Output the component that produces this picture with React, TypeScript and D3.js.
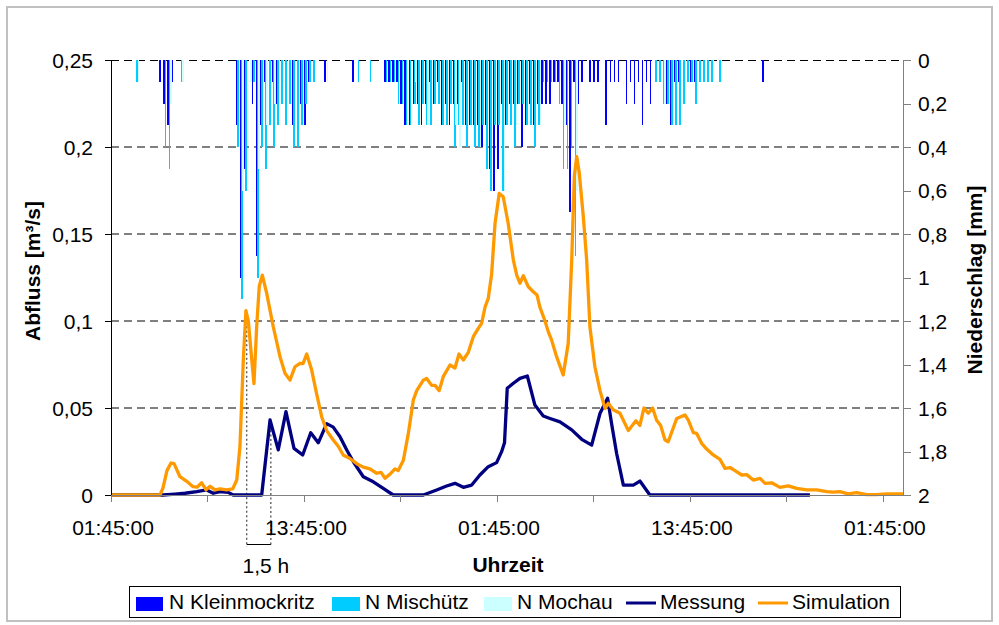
import React from "react";
import * as d3 from "d3";

// ---------- data ----------
// time in hours after 01:45:00 of day 1
const xTickHours = [0, 6, 12, 18, 24, 30, 36, 42, 48];
const xLabelHours = [0, 12, 24, 36, 48];
const xLabels = ["01:45:00", "13:45:00", "01:45:00", "13:45:00", "01:45:00"];
const leftTicks = [0, 0.05, 0.1, 0.15, 0.2, 0.25];
const rightTicks = [0, 0.2, 0.4, 0.6, 0.8, 1, 1.2, 1.4, 1.6, 1.8, 2];

// precipitation per 15-min step [mm], step 0 = 01:45
const rainKleinmockritz = [
  0,0,0,0,0,0,0,0,0,0,
  0,0,0.1,0.2,0.3,0.1,0,0,0,0,
  0,0,0,0,0,0,0,0,0,0,
  0,0.3,1.0,0.5,0,0.2,0.9,0.3,0.1,0,
  0.1,0.2,0,0,0,0.3,0,0.2,0.3,0.1,
  0,0,0,0.1,0,0,0,0,0,0,
  0.1,0,0,0,0,0,0,0,0.1,0.1,
  0.1,0.1,0.2,0.3,0.3,0.2,0.2,0.3,0.2,0.1,
  0.2,0.1,0.3,0.2,0.3,0.2,0.2,0.1,0.3,0.3,
  0.3,0.3,0.4,0.3,0.5,0.6,0.5,0.2,0.3,0.2,
  0.2,0.2,0.4,0.3,0.2,0.3,0.2,0.2,0.2,0.2,
  0.1,0.1,0.2,0.3,0.7,0.1,0.2,0.1,0,0.1,
  0.1,0.1,0,0.3,0.1,0.1,0.1,0,0.2,0.1,
  0.2,0.1,0.3,0.1,0.2,0,0,0,0.2,0.3,
  0.1,0.1,0,0,0.1,0.1,0,0,0,0,
  0,0,0,0,0,0,0,0,0,0,
  0,0,0.1,
];
const rainMischuetz = [
  0,0,0,0,0,0,0.1,0,0,0,
  0,0,0,0.4,0.5,0,0,0.1,0,0,
  0,0,0,0,0,0,0,0,0,0,
  0,0.4,1.1,0.6,0,0.1,1.0,0.4,0.5,0.3,
  0.4,0.3,0.2,0.3,0.2,0.4,0.4,0.3,0.2,0.1,
  0.1,0,0,0,0,0,0,0,0,0,
  0,0.1,0,0,0.1,0,0,0,0.1,0.1,
  0.1,0.2,0.2,0.3,0.3,0.2,0.3,0.2,0.3,0.3,
  0.2,0.2,0.3,0.3,0.2,0.4,0.3,0.3,0.4,0.3,
  0.4,0.4,0.3,0.5,0.6,0.3,0.3,0.6,0.3,0.3,
  0.4,0.2,0.2,0.3,0.3,0.4,0.3,0.1,0.1,0.1,
  0.1,0.2,0.5,0.5,0.4,0.9,0,0,0,0,
  0,0,0,0,0,0,0,0,0,0,
  0,0,0,0,0,0.1,0.1,0.2,0.2,0.3,
  0.3,0.3,0.2,0.1,0.1,0.2,0.1,0.1,0.1,0.1,
  0,0.1,0,0,0,0,0,0,0,0,
  0,0,0,
];
const rainMochau = [
  0,0,0,0,0,0,0.1,0,0,0,
  0,0,0,0,0.2,0,0,0.1,0,0,
  0,0,0,0,0,0,0,0,0,0,
  0,0,0.6,0,0.1,0,0.5,0,0.3,0,
  0.2,0,0.1,0,0,0,0.2,0,0,0,
  0,0,0,0.1,0,0,0,0,0,0,
  0,0,0,0,0,0,0,0,0,0,
  0,0,0,0,0,0.1,0,0,0.3,0,
  0,0,0,0,0,0.3,0.4,0,0,0,
  0,0.4,0,0,0,0,0,0.6,0,0,
  0.3,0,0,0,0,0,0.3,0,0,0,
  0,0,0.3,0,0,0.6,0,0,0,0,
  0,0,0,0,0,0,0,0,0,0,
  0,0,0,0,0,0,0,0.2,0,0.3,
  0,0,0.2,0,0,0,0,0,0,0.1,
  0,0.1,0,0,0,0,0,0,0,0,
  0,0,0,
];

// discharge [m³/s]
const messungHours = [0,3.23,3.98,4.6,5.33,5.95,6.36,6.78,7.29,7.6,9.37,9.89,10.4,10.88,11.38,11.92,12.42,12.89,13.41,13.82,14.24,14.66,15.07,15.69,16.31,16.93,17.55,19.42,20.25,20.87,21.39,21.91,22.43,22.94,23.46,23.98,24.29,24.47,24.64,25.02,25.43,25.89,26.36,26.88,27.3,27.92,28.65,29.27,29.89,30.41,30.88,31.13,31.44,31.86,32.48,32.89,33.51,43.46];
const messungValues = [0,0,0.0005,0.001,0.0019,0.0029,0.001,0.0019,0.0015,0,0,0.0431,0.0259,0.0479,0.0268,0.023,0.0358,0.03,0.041,0.039,0.0335,0.0259,0.0191,0.0105,0.0076,0.0038,0,0,0.0029,0.0052,0.0067,0.0044,0.0057,0.0115,0.0163,0.0186,0.0249,0.03,0.0613,0.0642,0.067,0.0684,0.0517,0.0454,0.044,0.042,0.0374,0.032,0.0287,0.047,0.0556,0.041,0.024,0.0057,0.0057,0.008,0,0];

const simulationHours = [0,3.05,3.23,3.48,3.73,3.92,4.29,4.73,5.1,5.35,5.64,5.91,6.16,6.47,6.78,7.19,7.57,7.82,8.02,8.23,8.39,8.54,8.75,8.89,9.06,9.22,9.41,9.68,10.09,10.51,10.82,11.13,11.44,11.75,11.94,12.17,12.48,12.79,13.1,13.41,13.82,14.13,14.44,14.86,15.28,15.69,16.1,16.52,16.79,17.04,17.35,17.66,17.86,18.18,18.49,18.8,19.01,19.42,19.63,19.94,20.15,20.41,20.66,21.08,21.39,21.64,21.91,22.22,22.53,22.84,23.05,23.26,23.46,23.67,23.88,24.14,24.39,24.7,25.02,25.23,25.43,25.64,25.95,26.26,26.49,26.67,26.99,27.19,27.4,27.71,28.12,28.43,28.65,28.81,28.96,29.12,29.37,29.58,29.78,30.09,30.41,30.72,30.92,31.23,31.65,32.17,32.64,32.89,33.14,33.41,33.68,33.93,34.18,34.45,34.65,35.18,35.69,35.9,36.21,36.42,36.73,37.04,37.45,37.87,38.18,38.49,38.8,39.22,39.53,39.94,40.36,40.67,41.08,41.6,42.11,42.64,43.26,43.88,44.5,44.91,45.33,45.84,46.37,46.99,47.61,48.23,48.64,49.25];
const simulationValues = [0,0,0.004,0.014,0.0184,0.018,0.0105,0.0077,0.0048,0.0045,0.007,0.003,0.005,0.003,0.0035,0.003,0.0035,0.0086,0.028,0.078,0.106,0.1,0.078,0.064,0.097,0.12,0.1264,0.116,0.0967,0.0795,0.07,0.066,0.0737,0.0757,0.0755,0.081,0.0718,0.058,0.045,0.037,0.0316,0.028,0.023,0.021,0.018,0.016,0.015,0.0125,0.013,0.0096,0.012,0.015,0.014,0.02,0.0354,0.0546,0.06,0.066,0.067,0.063,0.063,0.06,0.068,0.0747,0.073,0.081,0.0776,0.082,0.091,0.0958,0.0987,0.108,0.113,0.127,0.156,0.1733,0.1714,0.156,0.135,0.1264,0.1217,0.126,0.1197,0.1168,0.115,0.108,0.1,0.0939,0.089,0.0795,0.069,0.087,0.135,0.183,0.1945,0.185,0.16,0.135,0.0967,0.0737,0.06,0.0498,0.0527,0.049,0.047,0.037,0.0427,0.04,0.05,0.047,0.05,0.043,0.04,0.0316,0.0306,0.044,0.046,0.043,0.0358,0.0354,0.0297,0.0264,0.023,0.0205,0.0153,0.0158,0.014,0.0115,0.0117,0.0086,0.0096,0.0067,0.007,0.0044,0.0052,0.0038,0.0029,0.0029,0.0019,0.0017,0.0019,0.0006,0.0013,0.0002,0.0002,0.0006,0.0006,0.0006];

// time-shift annotation (simulated peak vs. measured peak)
const shiftHours = [8.44, 9.94];
const shiftLabel = "1,5 h";

const seriesNames = ["N Kleinmockritz", "N Mischütz", "N Mochau", "Messung", "Simulation"];

// ---------- styles ----------
const FONT = "'Liberation Sans', Arial, sans-serif";
const FS = 21;
const C_K = "#0000FF";
const C_M = "#00CCFF";
const C_MO = "#CCFFFF";
const C_MESS = "#000080";
const C_SIM = "#FF9900";

const W = 999, H = 625;
const PL = 111, PR = 903, PT = 60, PB = 495;

const comma = (v: number) => String(+v.toFixed(3)).replace(".", ",");

export default function App() {
  const x = d3.scaleLinear().domain([0, 49.25]).range([PL, PR]);
  const yL = d3.scaleLinear().domain([0, 0.25]).range([PB, PT]);
  const yR = d3.scaleLinear().domain([0, 2]).range([PT, PB]);

  const stepW = x(0.25) - x(0);
  const barW = stepW / 3;

  const line = d3
    .line<[number, number]>()
    .x((d) => x(d[0]))
    .y((d) => yL(d[1]));

  const mess: [number, number][] = messungHours.map((h, i) => [h, messungValues[i]]);
  const sim: [number, number][] = simulationHours.map((h, i) => [h, simulationValues[i]]);

  const rainSeries = [
    { data: rainKleinmockritz, color: C_K, k: 0 },
    { data: rainMischuetz, color: C_M, k: 1 },
    { data: rainMochau, color: C_MO, k: 2 },
  ];

  return (
    <svg width={W} height={H} style={{ position: "absolute", left: 0, top: 0, background: "#fff" }} fontFamily={FONT}>
      <rect x={0} y={0} width={W} height={H} fill="#fff" />
      <rect x={7} y={7} width={985} height={614} fill="none" stroke="#c0c0c0" strokeWidth={2} />

      {/* gridlines */}
      {leftTicks.slice(1).map((t) => {
        const yy = t === 0.25 ? yL(t) + 0.5 : yL(t);
        return <line key={"g" + t} x1={PL} x2={PR} y1={yy} y2={yy} stroke="#000" strokeWidth={1} strokeDasharray="8,5" />;
      })}

      {/* precipitation bars */}
      <g shapeRendering="crispEdges">
        {rainSeries.map((s) =>
          s.data.map((v, i) =>
            v > 0 ? (
              <rect
                key={s.k + "-" + i}
                x={x(i * 0.25) + s.k * barW}
                y={yR(0)}
                width={barW + 0.3}
                height={yR(v) - yR(0)}
                fill={s.color}
              />
            ) : null
          )
        )}
      </g>

      {/* shift annotation */}
      <line x1={x(shiftHours[0])} x2={x(shiftHours[0])} y1={yL(0.097)} y2={547} stroke="#444" strokeWidth={1.2} strokeDasharray="2,2.5" />
      <line x1={x(shiftHours[1])} x2={x(shiftHours[1])} y1={yL(0.04)} y2={547} stroke="#444" strokeWidth={1.2} strokeDasharray="2,2.5" />
      <line x1={x(shiftHours[0])} x2={x(shiftHours[1])} y1={544.5} y2={544.5} stroke="#000" strokeWidth={1} />
      <text x={x(shiftHours[1]) - 5} y={573} fontSize={FS} textAnchor="middle">{shiftLabel}</text>

      {/* lines */}
      <path d={line(mess) || ""} fill="none" stroke={C_MESS} strokeWidth={3.3} strokeLinejoin="round" />
      <path d={line(sim) || ""} fill="none" stroke={C_SIM} strokeWidth={3.3} strokeLinejoin="round" />

      {/* left axis */}
      <line x1={PL + 0.5} x2={PL + 0.5} y1={PT} y2={PB} stroke="#000" strokeWidth={1} />
      {leftTicks.map((t) => (
        <g key={"l" + t}>
          <line x1={PL - 6} x2={PL} y1={Math.round(yL(t)) + 0.5} y2={Math.round(yL(t)) + 0.5} stroke="#000" />
          <text x={93} y={yL(t) + 7.5} fontSize={FS} textAnchor="end">{comma(t)}</text>
        </g>
      ))}

      {/* right axis */}
      <line x1={PR + 0.5} x2={PR + 0.5} y1={PT} y2={PB} stroke="#808080" strokeWidth={1} />
      {rightTicks.map((t) => (
        <g key={"r" + t}>
          <line x1={PR} x2={PR + 8} y1={Math.round(yR(t)) + 0.5} y2={Math.round(yR(t)) + 0.5} stroke="#808080" />
          <text x={918} y={yR(t) + 7.5} fontSize={FS} textAnchor="start">{comma(t)}</text>
        </g>
      ))}

      {/* bottom axis */}
      <line x1={PL} x2={PR} y1={PB + 0.5} y2={PB + 0.5} stroke="#808080" strokeWidth={1} />
      {xTickHours.map((h) => (
        <line key={"xt" + h} x1={Math.round(x(h)) + 0.5} x2={Math.round(x(h)) + 0.5} y1={PB} y2={PB + 7} stroke="#808080" />
      ))}
      {xLabelHours.map((h, i) => (
        <text key={"xl" + h} x={x(h) + 2} y={535} fontSize={FS} textAnchor="middle">{xLabels[i]}</text>
      ))}

      {/* axis titles */}
      <text x={508} y={572} fontSize={FS} fontWeight="bold" textAnchor="middle">Uhrzeit</text>
      <text transform="translate(40,271) rotate(-90)" fontSize={FS} fontWeight="bold" textAnchor="middle">Abfluss [m³/s]</text>
      <text transform="translate(982,280) rotate(-90)" fontSize={FS} fontWeight="bold" textAnchor="middle">Niederschlag [mm]</text>

      {/* legend */}
      <rect x={129.5} y={586.5} width={771} height={31} fill="#fff" stroke="#000" strokeWidth={1} />
      <rect x={136} y={597} width={27} height={14} fill={C_K} />
      <text x={169} y={609} fontSize={FS}>{seriesNames[0]}</text>
      <rect x={332} y={597} width={28} height={14} fill={C_M} />
      <text x={365} y={609} fontSize={FS}>{seriesNames[1]}</text>
      <rect x={484} y={597} width={28} height={14} fill={C_MO} />
      <text x={517} y={609} fontSize={FS}>{seriesNames[2]}</text>
      <line x1={626} x2={656} y1={603} y2={603} stroke={C_MESS} strokeWidth={3} />
      <text x={660} y={609} fontSize={FS}>{seriesNames[3]}</text>
      <line x1={758} x2={788} y1={603} y2={603} stroke={C_SIM} strokeWidth={3} />
      <text x={792} y={609} fontSize={FS}>{seriesNames[4]}</text>
    </svg>
  );
}
